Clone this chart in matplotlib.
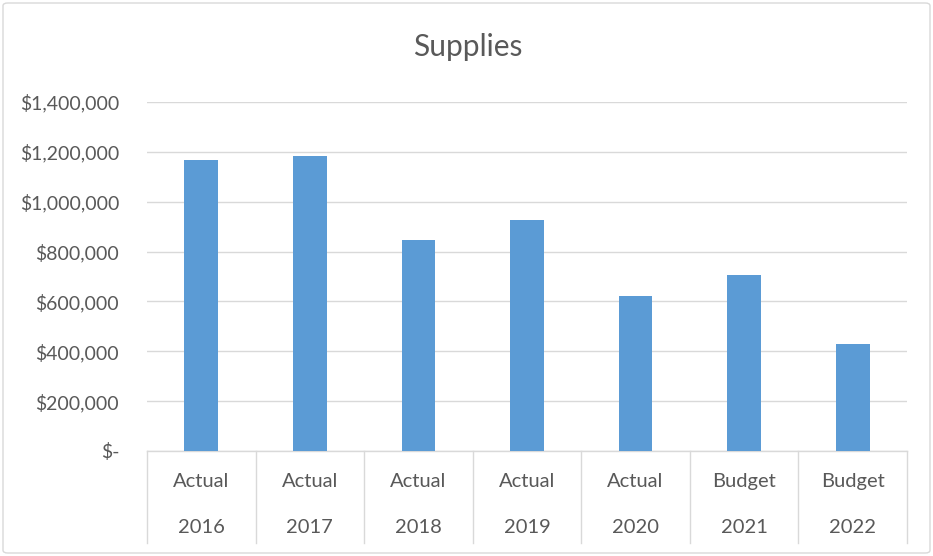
import matplotlib
matplotlib.use('Agg')
import matplotlib.pyplot as plt
from matplotlib.patches import FancyBboxPatch
from matplotlib.ticker import FuncFormatter, MultipleLocator

GROUPS = ['Actual', 'Actual', 'Actual', 'Actual', 'Actual', 'Budget', 'Budget']
YEARS = ['2016', '2017', '2018', '2019', '2020', '2021', '2022']
SUPPLIES = [1168000, 1184000, 845000, 928000, 621000, 705000, 429000]

BAR_COLOR = '#5b9bd5'
TEXT_COLOR = '#595959'
LINE_COLOR = '#d9d9d9'

plt.rcParams['font.family'] = ['Lato', 'DejaVu Sans']


def money(v, _pos):
    if v == 0:
        return '$-'
    return f'${v:,.0f}'


fig = plt.figure(figsize=(9.33, 5.56), dpi=100)
ax = fig.add_axes([147 / 933, 1 - 451 / 556, 760 / 933, 349 / 556])

xs = list(range(len(SUPPLIES)))
ax.bar(xs, SUPPLIES, width=0.31, color=BAR_COLOR, zorder=3)

ax.set_xlim(-0.5, len(SUPPLIES) - 0.5)
ax.set_ylim(0, 1400000)
ax.yaxis.set_major_locator(MultipleLocator(200000))
ax.yaxis.set_major_formatter(FuncFormatter(money))
ax.grid(axis='y', color=LINE_COLOR, linewidth=1.0, zorder=0)
ax.tick_params(axis='y', length=0, pad=20, labelsize=14, labelcolor=TEXT_COLOR)
ax.tick_params(axis='x', length=0, labelbottom=False)
for side in ['top', 'right', 'left']:
    ax.spines[side].set_visible(False)
ax.spines['bottom'].set_color(LINE_COLOR)
ax.spines['bottom'].set_linewidth(1.0)

# two-level category axis like Excel
tr = ax.get_xaxis_transform()
for i in range(len(SUPPLIES) + 1):
    ax.plot([i - 0.5, i - 0.5], [0, -0.264], transform=tr, color=LINE_COLOR,
            linewidth=1.0, clip_on=False)
for i, (g, yr) in enumerate(zip(GROUPS, YEARS)):
    ax.text(i, -0.086, g, transform=tr, ha='center', va='center',
            fontsize=14.5, color=TEXT_COLOR)
    ax.text(i, -0.218, yr, transform=tr, ha='center', va='center',
            fontsize=14.5, color=TEXT_COLOR)

fig.text(468 / 933, 1 - 47 / 556, 'Supplies', ha='center', va='center',
         fontsize=21.5, color=TEXT_COLOR)

border = FancyBboxPatch((3 / 933, 3 / 556), 927 / 933, 550 / 556,
                        boxstyle='round,pad=0,rounding_size=0.005',
                        transform=fig.transFigure, fill=False,
                        edgecolor=LINE_COLOR, linewidth=1.0)
fig.patches.append(border)

fig.savefig('out.png', dpi=100)
